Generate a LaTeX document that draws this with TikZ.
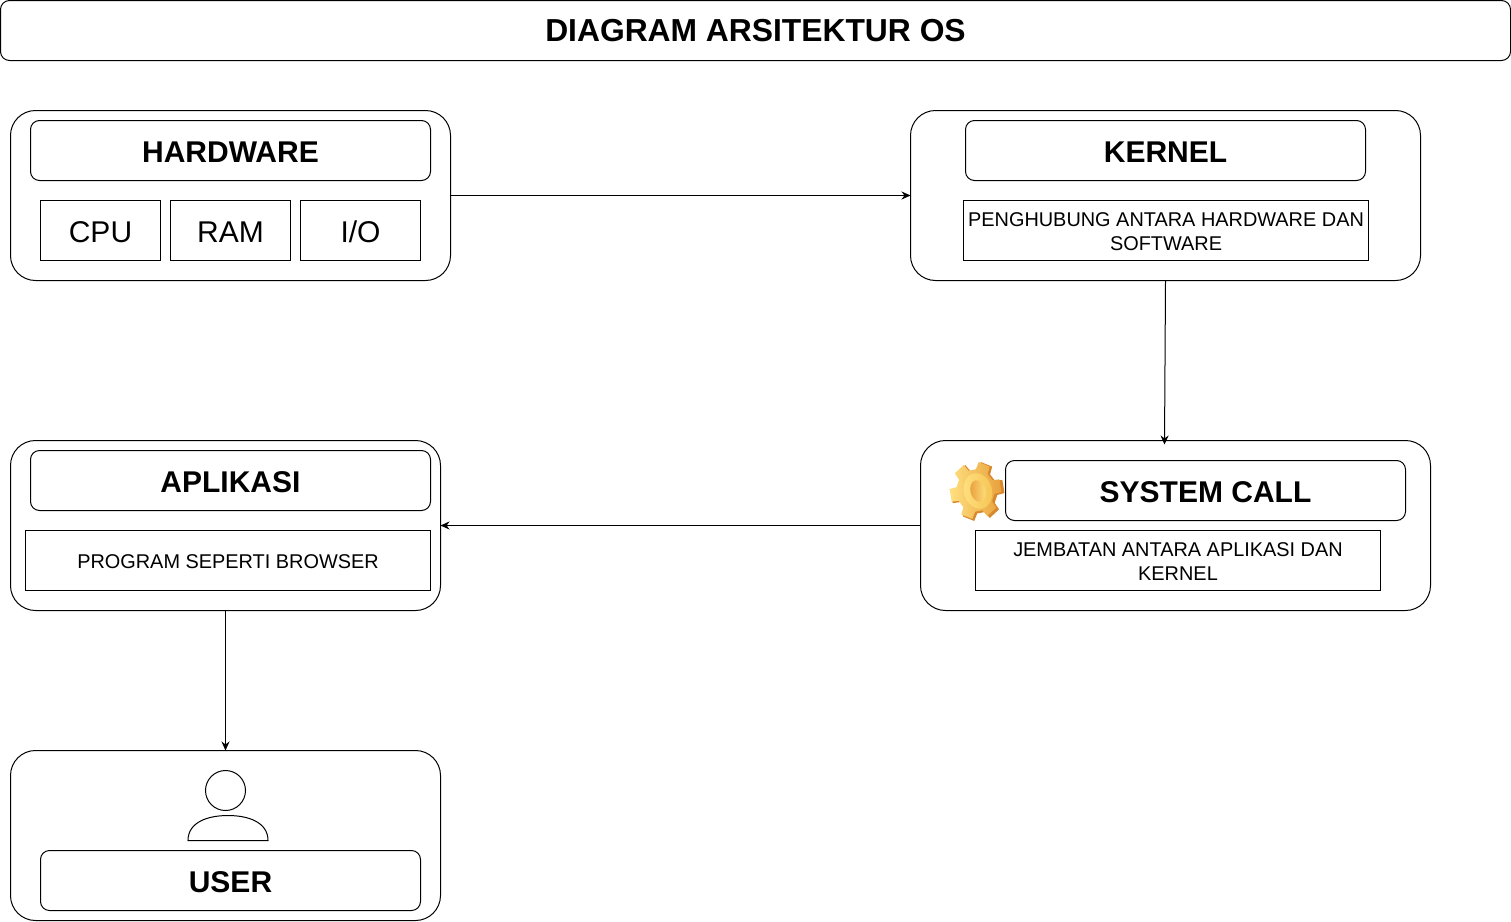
\documentclass[tikz,border=0pt]{standalone}
\usepackage{fontspec}
\setmainfont{Liberation Sans}
\usetikzlibrary{arrows.meta}
\definecolor{gearback}{HTML}{D8892E}
\definecolor{gearlight}{HTML}{FFE07F}
\definecolor{gearmid}{HTML}{F5C453}
\definecolor{geardark}{HTML}{E8A03C}
\tikzset{
  x=1pt,y=-1pt,
  every node/.style={inner sep=0pt,outer sep=0pt,align=center,text=black},
  base/.style={draw=black,line width=1pt,anchor=center},
  outerbox/.style={base,rounded corners=25pt},
  titlebox/.style={base,rounded corners=9pt,font=\fontsize{30}{36}\selectfont\bfseries},
  partbox/.style={base,font=\fontsize{30}{36}\selectfont},
  descbox/.style={base,font=\fontsize{19.9}{24}\selectfont},
  link/.style={draw=black,line width=1pt,-{Stealth[length=9pt,width=8pt]}},
  gearpath/.style={line join=round}
}
\def\textdrop{1.25pt}
\newcommand{\boxat}[7]{\node[#1,minimum width=#5pt-#3pt,minimum height=#6pt-#4pt] (#2) at ({(#3+#5)/2},{(#4+#6)/2}) {};
  \node[#1,draw=none,rounded corners=0pt,minimum width=0pt,minimum height=0pt] (#2text) at ([yshift=-\textdrop]#2.center) {#7};}
\newcommand{\gearshape}{(-29:20) -- (-23:27) -- (3:27) -- (9:20)
  -- (31:20) -- (37:27) -- (63:27) -- (69:20)
  -- (91:20) -- (97:27) -- (123:27) -- (129:20)
  -- (151:20) -- (157:27) -- (183:27) -- (189:20)
  -- (211:20) -- (217:27) -- (243:27) -- (249:20)
  -- (271:20) -- (277:27) -- (303:27) -- (309:20) -- cycle}
\begin{document}
\begin{tikzpicture}
\useasboundingbox (0,0) rectangle (1511,921);
\begin{scope}[shift={(0.5,0.5)}]
\def\textdrop{0pt}
\boxat{titlebox,font=\fontsize{31.8}{36}\selectfont\bfseries}{title}{0}{0}{1510}{60}{DIAGRAM ARSITEKTUR OS}
\def\textdrop{1.25pt}
% hardware
\boxat{outerbox}{hw}{10}{110}{450}{280}{}
\boxat{titlebox}{hwtitle}{30}{120}{430}{180}{HARDWARE}
\boxat{partbox}{cpu}{40}{200}{160}{260}{CPU}
\boxat{partbox}{ram}{170}{200}{290}{260}{RAM}
\boxat{partbox}{io}{300}{200}{420}{260}{I/O}
% kernel
\boxat{outerbox}{kernel}{910}{110}{1420}{280}{}
\boxat{titlebox}{kerneltitle}{965}{120}{1365}{180}{KERNEL}
\boxat{descbox}{kerneldesc}{963}{200}{1368}{260}{PENGHUBUNG ANTARA HARDWARE DAN\\SOFTWARE}
% system call
\boxat{outerbox}{sys}{920}{440}{1430}{610}{}
\boxat{titlebox}{systitle}{1005}{460}{1405}{520}{SYSTEM CALL}
\boxat{descbox}{sysdesc}{975}{530}{1380}{590}{JEMBATAN ANTARA APLIKASI DAN\\KERNEL}
% aplikasi
\boxat{outerbox}{app}{10}{440}{440}{610}{}
\boxat{titlebox}{apptitle}{30}{450}{430}{510}{APLIKASI}
\boxat{descbox}{appdesc}{25}{530}{430}{590}{PROGRAM SEPERTI BROWSER}
% user
\boxat{outerbox}{user}{10}{750}{440}{920}{}
\boxat{titlebox}{usertitle}{40}{850}{420}{910}{USER}
% person icon
\draw[line width=1pt] (225,790) circle[radius=20];
\draw[line width=1pt] (187.5,840) .. controls (187.5,821.5) and (207.5,815) .. (227.5,815) .. controls (247.5,815) and (267.5,821.5) .. (267.5,840) -- cycle;
% gear icon
\begin{scope}[shift={(977,491)},yscale=1.1]
  \fill[gearback,gearpath] \gearshape;
\end{scope}
\begin{scope}[shift={(975,490)},xscale=0.96,yscale=1.06]
  \shade[left color=gearlight,right color=geardark,gearpath] \gearshape;
\end{scope}
\begin{scope}[shift={(977.5,490.5)},rotate=15]
  \shade[left color=gearlight,right color=gearmid] (0,0) ellipse[x radius=14,y radius=18];
  \shade[left color=geardark,right color=gearlight] (0,0) ellipse[x radius=7.5,y radius=11];
\end{scope}
% connectors
\coordinate (kernelout) at (1165,280);
\coordinate (sysin) at (1164,444);
\coordinate (appout) at (225,610);
\coordinate (userin) at (225,750);
\draw[link] (hw.east) -- (kernel.west);
\draw[link] (kernelout) -- (sysin);
\draw[link] (sys.west) -- (app.east);
\draw[link] (appout) -- (userin);
\end{scope}
\end{tikzpicture}
\end{document}
